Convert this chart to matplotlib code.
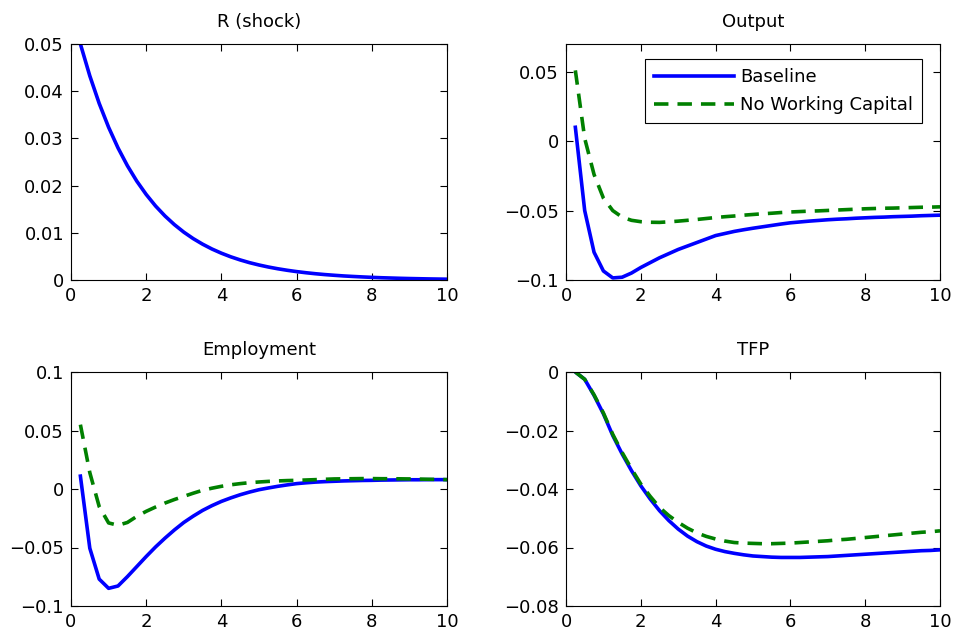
import matplotlib
matplotlib.use("Agg")
import matplotlib.pyplot as plt
from matplotlib.ticker import FuncFormatter

plt.rcParams['font.family'] = ['DejaVu Sans']

quarters = [0.25 * k for k in range(1, 41)]

r_shock = [0.05, 0.04325, 0.03741, 0.03236, 0.02799, 0.02421, 0.02094, 0.01812, 0.01567, 0.01356,
           0.01173, 0.01014, 0.00877, 0.00759, 0.00656, 0.00568, 0.00491, 0.00425, 0.00367, 0.00318,
           0.00275, 0.00238, 0.00206, 0.00178, 0.00154, 0.00133, 0.00115, 0.00100, 0.00086, 0.00075,
           0.00065, 0.00056, 0.00048, 0.00042, 0.00036, 0.00031, 0.00027, 0.00023, 0.00020, 0.00017]

output_base = [0.010, -0.050, -0.080, -0.0935, -0.0985, -0.098, -0.095, -0.091, -0.0875, -0.084,
               -0.081, -0.078, -0.0755, -0.073, -0.0705, -0.068, -0.0665, -0.065, -0.0638, -0.0627,
               -0.0617, -0.0607, -0.0597, -0.0588, -0.0582, -0.0576, -0.0571, -0.0566, -0.0562, -0.0559,
               -0.0555, -0.0552, -0.0549, -0.0547, -0.0544, -0.0542, -0.0540, -0.0537, -0.0535, -0.0533]
output_nwc = [0.051, 0.002, -0.024, -0.041, -0.050, -0.0547, -0.057, -0.058, -0.0584, -0.0585,
              -0.0581, -0.0576, -0.0570, -0.0564, -0.0557, -0.0550, -0.0544, -0.0539, -0.0533, -0.0528,
              -0.0523, -0.0519, -0.0514, -0.0510, -0.0507, -0.0504, -0.0502, -0.0499, -0.0496, -0.0493,
              -0.0490, -0.0487, -0.0485, -0.0483, -0.0482, -0.0480, -0.0478, -0.0476, -0.0475, -0.0473]

employment_base = [0.011, -0.0506, -0.077, -0.0849, -0.0829, -0.0749, -0.0663, -0.0577, -0.0495, -0.042,
                   -0.035, -0.0286, -0.0232, -0.0183, -0.0142, -0.0106, -0.0076, -0.0049, -0.0026, -0.0006,
                   0.0009, 0.0023, 0.0035, 0.0046, 0.0053, 0.0059, 0.0063, 0.0066, 0.0069, 0.0071,
                   0.0073, 0.0074, 0.0076, 0.0077, 0.0078, 0.0079, 0.0079, 0.0080, 0.0080, 0.0080]
employment_nwc = [0.055, 0.014, -0.015, -0.029, -0.031, -0.0286, -0.0234, -0.0191, -0.0154, -0.012,
                  -0.009, -0.0063, -0.0036, -0.0011, 0.0007, 0.0023, 0.0036, 0.0046, 0.0054, 0.0060,
                  0.0065, 0.0069, 0.0072, 0.0074, 0.0077, 0.0080, 0.0083, 0.0086, 0.0087, 0.0088,
                  0.0089, 0.0089, 0.0088, 0.0088, 0.0087, 0.0086, 0.0085, 0.0083, 0.0082, 0.0080]

tfp_base = [0.0, -0.0025, -0.008, -0.0143, -0.0217, -0.028, -0.0337, -0.0389, -0.0434, -0.0474,
            -0.0508, -0.0537, -0.0561, -0.058, -0.0595, -0.0606, -0.0614, -0.062, -0.0625, -0.0629,
            -0.0631, -0.0633, -0.0634, -0.0634, -0.0634, -0.0633, -0.0632, -0.0631, -0.0629, -0.0627,
            -0.0625, -0.0623, -0.0621, -0.0619, -0.0617, -0.0615, -0.0613, -0.0611, -0.0610, -0.0608]
tfp_nwc = [0.0, -0.0025, -0.0078, -0.014, -0.0213, -0.0275, -0.0331, -0.0383, -0.0425, -0.0463,
           -0.0491, -0.0514, -0.0534, -0.055, -0.0562, -0.0571, -0.0578, -0.0583, -0.0585, -0.0586,
           -0.0587, -0.0587, -0.0586, -0.0585, -0.0583, -0.0581, -0.0579, -0.0577, -0.0574, -0.0572,
           -0.0569, -0.0566, -0.0563, -0.0560, -0.0557, -0.0554, -0.0551, -0.0548, -0.0546, -0.0543]

titles = ["R (shock)", "Output", "Employment", "TFP"]
legend_labels = ["Baseline", "No Working Capital"]
xticks = [0, 2, 4, 6, 8, 10]
yticks_list = [[0, 0.01, 0.02, 0.03, 0.04, 0.05],
               [-0.1, -0.05, 0, 0.05],
               [-0.1, -0.05, 0, 0.05, 0.1],
               [-0.08, -0.06, -0.04, -0.02, 0]]
ylims = [(0, 0.05), (-0.1, 0.07), (-0.1, 0.1), (-0.08, 0)]

fig = plt.figure(figsize=(9.59, 6.37), dpi=100)
W, H = 959, 637
boxes = [(71, 44, 447, 280), (566, 44, 940, 280), (71, 372, 447, 606), (566, 372, 940, 606)]
axes = []
for (l, t, r, b) in boxes:
    axes.append(fig.add_axes([l / W, 1 - b / H, (r - l) / W, (b - t) / H]))

blue = (0, 0, 1)
green = (0, 0.5, 0)
lw = 2.6
fs = 13

def fmt(v, pos):
    s = "%g" % round(v, 6)
    if s == "-0":
        s = "0"
    return s.replace("-", "\u2212")

series = [(r_shock, None), (output_base, output_nwc), (employment_base, employment_nwc), (tfp_base, tfp_nwc)]
for i, ax in enumerate(axes):
    base, nwc = series[i]
    ax.plot(quarters, base, color=blue, lw=lw, label=legend_labels[0])
    if nwc is not None:
        ax.plot(quarters, nwc, color=green, lw=lw, ls=(0, (4, 2.5)), label=legend_labels[1])
    ax.set_xlim(0, 10)
    ax.set_ylim(*ylims[i])
    ax.set_xticks(xticks)
    ax.set_yticks(yticks_list[i])
    ax.yaxis.set_major_formatter(FuncFormatter(fmt))
    ax.tick_params(direction='in', top=True, right=True, labelsize=fs, length=5, width=0.8, pad=5)
    ax.set_title(titles[i], fontsize=fs, pad=12)
    for sp in ax.spines.values():
        sp.set_linewidth(0.8)

leg = axes[1].legend(loc='upper right', fontsize=fs, fancybox=False, framealpha=1,
                     edgecolor='black', handlelength=4.4, handletextpad=0.35, borderpad=0.5,
                     labelspacing=0.55, borderaxespad=0, bbox_to_anchor=(0.952, 0.936))
leg.get_frame().set_linewidth(0.8)

fig.savefig("out.png", dpi=100)
